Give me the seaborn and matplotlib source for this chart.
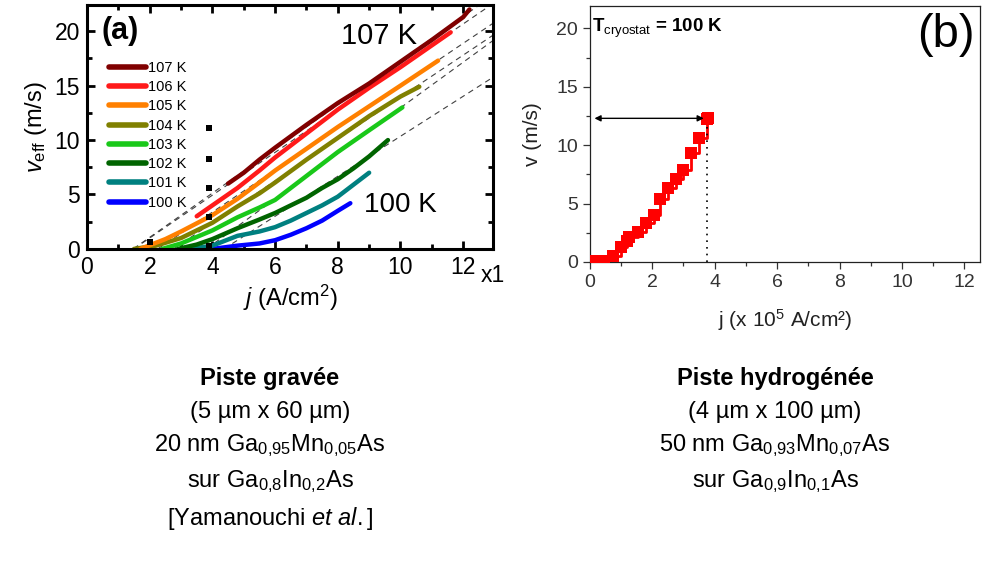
import numpy as np
import pandas as pd
import matplotlib
matplotlib.use("Agg")
import matplotlib.pyplot as plt
from matplotlib.lines import Line2D
from matplotlib.ticker import MultipleLocator
import seaborn as sns

# ---- panel (a): v_eff vs j for several cryostat temperatures (Yamanouchi et al.)
temps = ["100 K", "101 K", "102 K", "103 K", "104 K", "105 K", "106 K", "107 K"]
colors = ["#0000ff", "#008080", "#006400", "#19c819", "#808000", "#ff8000", "#ff1a1a", "#800000"]
j_100 = [4.0, 4.8, 5.5, 6.0, 6.5, 7.0, 7.5, 8.0, 8.4]
v_100 = [0.0, 0.3, 0.5, 0.8, 1.3, 1.9, 2.6, 3.5, 4.2]
j_101 = [3.3, 4.0, 4.8, 5.5, 6.0, 6.5, 7.0, 7.5, 8.0, 8.5, 9.0]
v_101 = [0.0, 0.3, 1.2, 1.6, 2.0, 2.6, 3.3, 4.0, 4.8, 5.9, 7.0]
j_102 = [2.9, 3.5, 4.0, 4.8, 5.5, 6.0, 6.5, 7.0, 7.5, 8.0, 8.5, 9.0, 9.6]
v_102 = [0.0, 0.4, 0.9, 1.9, 2.7, 3.3, 4.0, 4.7, 5.6, 6.4, 7.4, 8.5, 10.0]
j_103 = [2.4, 3.0, 3.5, 4.0, 4.8, 5.5, 6.0, 7.0, 8.0, 9.0, 10.06]
v_103 = [0.0, 0.5, 1.1, 1.7, 2.9, 3.8, 4.5, 6.7, 8.9, 10.9, 13.0]
j_104 = [1.5, 2.2, 3.0, 4.0, 4.8, 5.5, 6.0, 7.0, 8.0, 9.0, 10.0, 10.6]
v_104 = [0.0, 0.3, 1.0, 2.4, 3.9, 5.1, 6.1, 8.2, 10.2, 12.2, 14.0, 14.9]
j_105 = [1.7, 2.5, 3.0, 4.0, 4.8, 5.5, 6.0, 7.0, 8.0, 9.0, 10.0, 11.2]
v_105 = [0.0, 0.9, 1.6, 3.1, 4.6, 6.1, 7.2, 9.2, 11.2, 13.1, 15.0, 17.3]
j_106 = [3.5, 4.0, 4.8, 5.5, 6.0, 7.0, 8.0, 9.0, 10.0, 11.0, 11.6]
v_106 = [3.0, 4.0, 5.6, 7.2, 8.4, 10.6, 12.8, 14.8, 16.7, 18.7, 19.9]
j_107 = [4.5, 5.0, 5.5, 6.0, 7.0, 8.0, 9.0, 10.0, 11.0, 12.0, 12.2]
v_107 = [6.0, 7.0, 8.2, 9.3, 11.4, 13.4, 15.2, 17.2, 19.2, 21.3, 22.0]
curves_j = [j_100, j_101, j_102, j_103, j_104, j_105, j_106, j_107]
curves_v = [v_100, v_101, v_102, v_103, v_104, v_105, v_106, v_107]
fitted = ["102 K", "103 K", "104 K", "105 K", "106 K", "107 K"]

# small black squares
sq_j = [2.0, 3.9, 3.9, 3.9, 3.9, 3.9]
sq_v = [0.65, 0.3, 2.9, 5.6, 8.3, 11.1]

# ---- panel (b): hydrogenated track at 100 K
jb = [0.2, 0.45, 0.75, 1.0, 1.2, 1.27, 1.55, 1.8, 2.05, 2.25, 2.5, 2.75, 3.0, 3.25, 3.5, 3.75, 3.8]
vb = [0.1, 0.1, 0.55, 1.3, 1.8, 2.1, 2.55, 3.35, 4.05, 5.4, 6.3, 7.1, 7.9, 9.3, 10.6, 12.2, 12.3]
j_crit = 3.75
v_max = 12.3

sns.set_theme(style="ticks")
plt.rcParams["font.family"] = ["Liberation Sans", "DejaVu Sans"]
plt.rcParams["mathtext.fontset"] = "custom"
plt.rcParams["mathtext.rm"] = "Liberation Sans"
plt.rcParams["mathtext.it"] = "Liberation Sans:italic"
plt.rcParams["mathtext.bf"] = "Liberation Sans:bold"
plt.rcParams["mathtext.default"] = "regular"
for k in ["text.color", "axes.labelcolor", "xtick.color", "ytick.color"]:
    plt.rcParams[k] = "black"

fig = plt.figure(figsize=(9.83, 5.67), dpi=100)

# ---------------- panel (a)
ax = fig.add_axes([0.0885, 0.561, 0.413, 0.430])
rows = []
for t, js, vs in zip(temps, curves_j, curves_v):
    for jj, vv in zip(js, vs):
        rows.append((t, jj, vv))
df = pd.DataFrame(rows, columns=["T", "j", "v"])

for t, js, vs in zip(temps, curves_j, curves_v):
    if t in fitted:
        js = np.array(js)
        vs = np.array(vs)
        sel = js >= js[0] + 0.45 * (js[-1] - js[0])
        a, b = np.polyfit(js[sel], vs[sel], 1)
        x0 = -b / a
        xx = np.array([x0, 13.2])
        ax.plot(xx, a * xx + b, ls=(0, (5, 4)), color="0.25", lw=0.8, zorder=1)

sns.lineplot(data=df, x="j", y="v", hue="T", palette=dict(zip(temps, colors)),
             sort=False, estimator=None, lw=3.2, legend=False, ax=ax, zorder=2)
sns.scatterplot(x=sq_j, y=sq_v, color="black", marker="s", s=14, linewidth=0, ax=ax, zorder=3)

ax.set_xlim(0, 12.95)
ax.set_ylim(0, 22.4)
ax.xaxis.set_major_locator(MultipleLocator(2))
ax.xaxis.set_minor_locator(MultipleLocator(1))
ax.yaxis.set_major_locator(MultipleLocator(5))
ax.yaxis.set_minor_locator(MultipleLocator(2.5))
ax.tick_params(which="both", direction="in", top=True, right=True, labelsize=16.5, pad=5, color="black")
ax.tick_params(which="major", length=6, width=2)
ax.tick_params(which="minor", length=3.5, width=2)
for s in ax.spines.values():
    s.set_linewidth(2.2)
    s.set_color("black")
ax.set_xlabel(r"$\mathit{j}$ (A/cm$^{2}$)", fontsize=17, labelpad=3)
ax.set_ylabel(r"$\mathit{v}_{\rm eff}$ (m/s)", fontsize=17, labelpad=4)
ax.text(12.55, -2.4, "x1", fontsize=16.5, ha="left", va="center", clip_on=False)

handles = [Line2D([], [], color=c, lw=4, solid_capstyle="round") for c in colors[::-1]]
leg = ax.legend(handles, temps[::-1], loc="upper left", bbox_to_anchor=(0.04, 0.795),
                frameon=False, fontsize=10.5, handlelength=2.5, handletextpad=0.15,
                labelspacing=0.36, borderaxespad=0)
ax.text(0.035, 0.955, "(a)", transform=ax.transAxes, fontsize=22, fontweight="bold",
        ha="left", va="top")
ax.text(9.3, 19.6, "107 K", fontsize=21, ha="center", va="center")
ax.text(8.85, 4.0, "100 K", fontsize=20, ha="left", va="center")

# ---------------- panel (b)
bx = fig.add_axes([0.600, 0.538, 0.397, 0.451])
sns.lineplot(x=jb, y=vb, color="#ff0000", lw=2, drawstyle="steps-post", sort=False,
             estimator=None, ax=bx)
sns.scatterplot(x=jb, y=vb, color="#ff0000", marker="s", s=70, linewidth=0, ax=bx, zorder=3)
bx.annotate("", xy=(0.15, v_max), xytext=(j_crit - 0.1, v_max),
            arrowprops=dict(arrowstyle="<|-|>", color="black", lw=1, mutation_scale=9,
                            shrinkA=0, shrinkB=0))
bx.plot([j_crit, j_crit], [0, v_max], ls=(0, (1, 3)), color="black", lw=1.2)

bx.set_xlim(0, 12.5)
bx.set_ylim(0, 21.9)
bx.xaxis.set_major_locator(MultipleLocator(2))
bx.xaxis.set_minor_locator(MultipleLocator(1))
bx.yaxis.set_major_locator(MultipleLocator(5))
bx.yaxis.set_minor_locator(MultipleLocator(2.5))
bx.tick_params(which="both", direction="out", labelsize=14, labelcolor="#333333", color="#333333")
bx.tick_params(which="major", length=5, width=0.9)
bx.tick_params(which="minor", length=3, width=0.9)
for s in bx.spines.values():
    s.set_linewidth(0.9)
    s.set_color("#222222")
bx.set_xlabel(r"j (x 10$^{5}$ A/cm²)", fontsize=15, color="#222222", labelpad=12)
bx.set_ylabel("v (m/s)", fontsize=15, color="#222222", labelpad=10)
bx.text(0.08, 20.0, r"T$_{\rm cryostat}$ = 100 K", fontsize=13.5, fontweight="bold",
        ha="left", va="center")
bx.text(0.985, 0.975, "(b)", transform=bx.transAxes, fontsize=34, ha="right", va="top")

# ---------------- descriptions under the panels
left_lines = [r"(5 µm x 60 µm)", r"20 nm Ga$_{0{,}95}$Mn$_{0{,}05}$As",
              r"sur Ga$_{0{,}8}$In$_{0{,}2}$As", r"[Yamanouchi $\mathit{et\ al.}$]"]
right_lines = [r"(4 µm x 100 µm)", r"50 nm Ga$_{0{,}93}$Mn$_{0{,}07}$As",
               r"sur Ga$_{0{,}9}$In$_{0{,}1}$As"]
line_y = [412, 446, 482, 518]
desc_size = 17
fig.text(270 / 983, 1 - 378 / 567, "Piste gravée", fontsize=desc_size, fontweight="bold",
         ha="center", va="center")
fig.text(775 / 983, 1 - 378 / 567, "Piste hydrogénée", fontsize=desc_size, fontweight="bold",
         ha="center", va="center")
for txt, yy in zip(left_lines, line_y):
    fig.text(270 / 983, 1 - yy / 567, txt, fontsize=desc_size, ha="center", va="center")
for txt, yy in zip(right_lines, line_y):
    fig.text(775 / 983, 1 - yy / 567, txt, fontsize=desc_size, ha="center", va="center")

fig.savefig("out.png", dpi=100)
